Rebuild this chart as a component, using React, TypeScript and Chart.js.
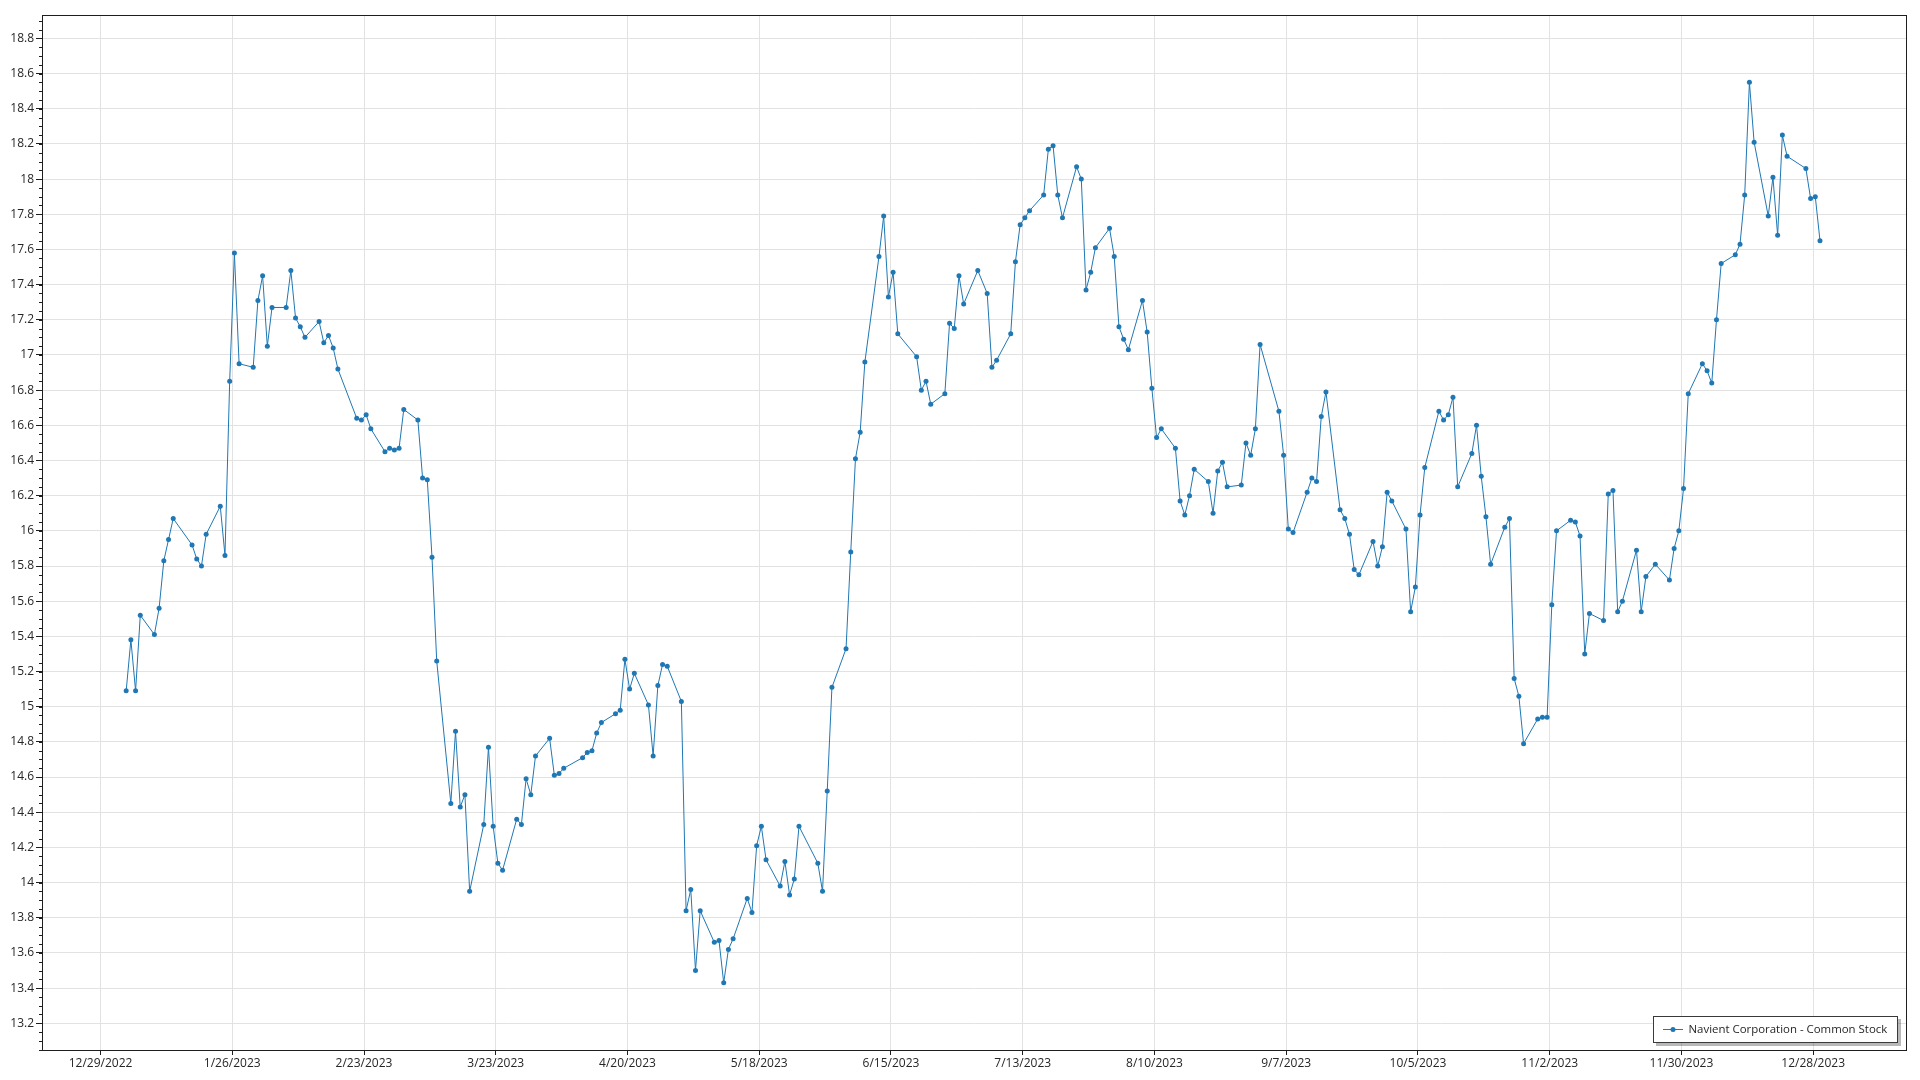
import React, { useEffect, useRef } from "react";
import { Chart, registerables } from "chart.js";

Chart.register(...registerables);

const seriesLabel = "Navient Corporation - Common Stock";

// Trading days (day of month) and closing prices, per month of 2023
const janDays = [3, 4, 5, 6, 9, 10, 11, 12, 13, 17, 18, 19, 20, 23, 24, 25, 26, 27, 30, 31];
const janValues = [15.09, 15.38, 15.09, 15.52, 15.41, 15.56, 15.83, 15.95, 16.07, 15.92, 15.84, 15.8, 15.98, 16.14, 15.86, 16.85, 17.58, 16.95, 16.93, 17.31];
const febDays = [1, 2, 3, 6, 7, 8, 9, 10, 13, 14, 15, 16, 17, 21, 22, 23, 24, 27, 28];
const febValues = [17.45, 17.05, 17.27, 17.27, 17.48, 17.21, 17.16, 17.1, 17.19, 17.07, 17.11, 17.04, 16.92, 16.64, 16.63, 16.66, 16.58, 16.45, 16.47];
const marDays = [1, 2, 3, 6, 7, 8, 9, 10, 13, 14, 15, 16, 17, 20, 21, 22, 23, 24, 27, 28, 29, 30, 31];
const marValues = [16.46, 16.47, 16.69, 16.63, 16.3, 16.29, 15.85, 15.26, 14.45, 14.86, 14.43, 14.5, 13.95, 14.33, 14.77, 14.32, 14.11, 14.07, 14.36, 14.33, 14.59, 14.5, 14.72];
const aprDays = [3, 4, 5, 6, 10, 11, 12, 13, 14, 17, 18, 19, 20, 21, 24, 25, 26, 27, 28];
const aprValues = [14.82, 14.61, 14.62, 14.65, 14.71, 14.74, 14.75, 14.85, 14.91, 14.96, 14.98, 15.27, 15.1, 15.19, 15.01, 14.72, 15.12, 15.24, 15.23];
const mayDays = [1, 2, 3, 4, 5, 8, 9, 10, 11, 12, 15, 16, 17, 18, 19, 22, 23, 24, 25, 26, 30, 31];
const mayValues = [15.03, 13.84, 13.96, 13.5, 13.84, 13.66, 13.67, 13.43, 13.62, 13.68, 13.91, 13.83, 14.21, 14.32, 14.13, 13.98, 14.12, 13.93, 14.02, 14.32, 14.11, 13.95];
const junDays = [1, 2, 5, 6, 7, 8, 9, 12, 13, 14, 15, 16, 20, 21, 22, 23, 26, 27, 28, 29, 30];
const junValues = [14.52, 15.11, 15.33, 15.88, 16.41, 16.56, 16.96, 17.56, 17.79, 17.33, 17.47, 17.12, 16.99, 16.8, 16.85, 16.72, 16.78, 17.18, 17.15, 17.45, 17.29];
const julDays = [3, 5, 6, 7, 10, 11, 12, 13, 14, 17, 18, 19, 20, 21, 24, 25, 26, 27, 28, 31];
const julValues = [17.48, 17.35, 16.93, 16.97, 17.12, 17.53, 17.74, 17.78, 17.82, 17.91, 18.17, 18.19, 17.91, 17.78, 18.07, 18.0, 17.37, 17.47, 17.61, 17.72];
const augDays = [1, 2, 3, 4, 7, 8, 9, 10, 11, 14, 15, 16, 17, 18, 21, 22, 23, 24, 25, 28, 29, 30, 31];
const augValues = [17.56, 17.16, 17.09, 17.03, 17.31, 17.13, 16.81, 16.53, 16.58, 16.47, 16.17, 16.09, 16.2, 16.35, 16.28, 16.1, 16.34, 16.39, 16.25, 16.26, 16.5, 16.43, 16.58];
const sepDays = [1, 5, 6, 7, 8, 11, 12, 13, 14, 15, 18, 19, 20, 21, 22, 25, 26, 27, 28, 29];
const sepValues = [17.06, 16.68, 16.43, 16.01, 15.99, 16.22, 16.3, 16.28, 16.65, 16.79, 16.12, 16.07, 15.98, 15.78, 15.75, 15.94, 15.8, 15.91, 16.22, 16.17];
const octDays = [2, 3, 4, 5, 6, 9, 10, 11, 12, 13, 16, 17, 18, 19, 20, 23, 24, 25, 26, 27, 30, 31];
const octValues = [16.01, 15.54, 15.68, 16.09, 16.36, 16.68, 16.63, 16.66, 16.76, 16.25, 16.44, 16.6, 16.31, 16.08, 15.81, 16.02, 16.07, 15.16, 15.06, 14.79, 14.93, 14.94];
const novDays = [1, 2, 3, 6, 7, 8, 9, 10, 13, 14, 15, 16, 17, 20, 21, 22, 24, 27, 28, 29, 30];
const novValues = [14.94, 15.58, 16.0, 16.06, 16.05, 15.97, 15.3, 15.53, 15.49, 16.21, 16.23, 15.54, 15.6, 15.89, 15.54, 15.74, 15.81, 15.72, 15.9, 16.0, 16.24];
const decDays = [1, 4, 5, 6, 7, 8, 11, 12, 13, 14, 15, 18, 19, 20, 21, 22, 26, 27, 28, 29];
const decValues = [16.78, 16.95, 16.91, 16.84, 17.2, 17.52, 17.57, 17.63, 17.91, 18.55, 18.21, 17.79, 18.01, 17.68, 18.25, 18.13, 18.06, 17.89, 17.9, 17.65];

const xTickLabels = ["12/29/2022", "1/26/2023", "2/23/2023", "3/23/2023", "4/20/2023", "5/18/2023", "6/15/2023", "7/13/2023", "8/10/2023", "9/7/2023", "10/5/2023", "11/2/2023", "11/30/2023", "12/28/2023"];
const yTickValues = [13.2, 13.4, 13.6, 13.8, 14, 14.2, 14.4, 14.6, 14.8, 15, 15.2, 15.4, 15.6, 15.8, 16, 16.2, 16.4, 16.6, 16.8, 17, 17.2, 17.4, 17.6, 17.8, 18, 18.2, 18.4, 18.6, 18.8];

// quotes are time-stamped part-way through the trading day (~10:50)
const QUOTE_TIME_OF_DAY = 0.45;

const ORIGIN = Date.UTC(2022, 11, 29);
const DAY = 86400000;
const dayIndex = (y: number, m: number, d: number) => (Date.UTC(y, m, d) - ORIGIN) / DAY;
const parseMDY = (s: string) => {
  const [m, d, y] = s.split("/").map(Number);
  return dayIndex(y, m - 1, d);
};

const monthDays = [janDays, febDays, marDays, aprDays, mayDays, junDays, julDays, augDays, sepDays, octDays, novDays, decDays];
const monthValues = [janValues, febValues, marValues, aprValues, mayValues, junValues, julValues, augValues, sepValues, octValues, novValues, decValues];

const points: { x: number; y: number }[] = [];
monthDays.forEach((days, m) => {
  days.forEach((d, i) => points.push({ x: dayIndex(2023, m, d) + QUOTE_TIME_OF_DAY, y: monthValues[m][i] }));
});

const xTickPositions = xTickLabels.map(parseMDY);
const labelByPos = new Map<number, string>();
xTickPositions.forEach((p, i) => labelByPos.set(p, xTickLabels[i]));

const LINE_COLOR = "#1f77b4";
const FONT_FAMILY = "'Open Sans', 'Noto Sans', sans-serif";
const TEXT_COLOR = "#262626";
const GRID_COLOR = "#e2e2e2";
const AXIS_COLOR = "#1e1e1e";

const framePlugin = {
  id: "frameAndLegend",
  afterDraw(chart: any) {
    const ctx: CanvasRenderingContext2D = chart.ctx;
    const a = chart.chartArea;
    const yScale = chart.scales.y;
    ctx.save();
    // frame
    ctx.strokeStyle = AXIS_COLOR;
    ctx.lineWidth = 1;
    ctx.strokeRect(Math.round(a.left) + 0.5, Math.round(a.top) + 0.5, Math.round(a.right - a.left), Math.round(a.bottom - a.top));
    // minor ticks on y axis
    ctx.beginPath();
    const step = 0.05;
    for (let v = Math.ceil(yScale.min / step) * step; v <= yScale.max + 1e-9; v += step) {
      const py = Math.round(yScale.getPixelForValue(v)) + 0.5;
      ctx.moveTo(a.left - 3, py);
      ctx.lineTo(a.left, py);
    }
    ctx.stroke();

    // legend
    const label = chart.data.datasets[0].label as string;
    ctx.font = `12px ${FONT_FAMILY}`;
    const rawW = ctx.measureText(label).width;
    const fontSize = Math.min(12, (12 * 199) / rawW);
    ctx.font = `${fontSize.toFixed(2)}px ${FONT_FAMILY}`;
    const tw = ctx.measureText(label).width;
    const boxW = Math.round(10 + 20 + 5.5 + tw + 10.5);
    const boxH = 27;
    const bx = Math.round(a.right - 8 - boxW);
    const by = Math.round(a.bottom - 7 - boxH);
    ctx.fillStyle = "rgba(0,0,0,0.28)";
    ctx.fillRect(bx + 3, by + 3, boxW, boxH);
    ctx.fillStyle = "#ffffff";
    ctx.fillRect(bx, by, boxW, boxH);
    ctx.strokeStyle = "#3a3a3a";
    ctx.lineWidth = 1;
    ctx.strokeRect(bx + 0.5, by + 0.5, boxW - 1, boxH - 1);
    const cy = by + boxH / 2;
    ctx.strokeStyle = LINE_COLOR;
    ctx.lineWidth = 1;
    ctx.beginPath();
    ctx.moveTo(bx + 10, cy);
    ctx.lineTo(bx + 30, cy);
    ctx.stroke();
    ctx.fillStyle = LINE_COLOR;
    ctx.beginPath();
    ctx.arc(bx + 20, cy, 2.5, 0, Math.PI * 2);
    ctx.fill();
    ctx.fillStyle = TEXT_COLOR;
    ctx.textBaseline = "middle";
    ctx.textAlign = "left";
    ctx.fillText(label, bx + 35.5, cy);
    ctx.restore();
  },
};

export default function App() {
  const canvasRef = useRef<HTMLCanvasElement | null>(null);

  useEffect(() => {
    const canvas = canvasRef.current;
    if (!canvas) return;
    const chart = new Chart(canvas, {
      type: "line",
      data: {
        datasets: [
          {
            label: seriesLabel,
            data: points,
            borderColor: LINE_COLOR,
            backgroundColor: LINE_COLOR,
            borderWidth: 1,
            pointRadius: 2.5,
            pointHoverRadius: 2.5,
            pointBorderWidth: 0,
            pointBackgroundColor: LINE_COLOR,
            tension: 0,
          },
        ],
      },
      options: {
        animation: false,
        responsive: false,
        maintainAspectRatio: false,
        events: [],
        layout: { padding: { left: 0, top: 15, right: 14, bottom: 0 } },
        plugins: { legend: { display: false }, tooltip: { enabled: false } },
        scales: {
          x: {
            type: "linear",
            min: -12.44,
            max: 383.73,
            afterBuildTicks: (s: any) => {
              s.ticks = xTickPositions.map((v) => ({ value: v }));
            },
            afterFit: (s: any) => {
              s.height = 30;
            },
            ticks: {
              autoSkip: false,
              maxRotation: 0,
              padding: 1,
              color: TEXT_COLOR,
              font: { family: FONT_FAMILY, size: 12 },
              callback: (v: any) => labelByPos.get(Number(v)) ?? "",
            },
            grid: { color: GRID_COLOR, tickColor: AXIS_COLOR, tickLength: 5, drawTicks: true },
            border: { color: AXIS_COLOR, width: 1 },
          },
          y: {
            type: "linear",
            min: 13.048,
            max: 18.933,
            afterBuildTicks: (s: any) => {
              s.ticks = yTickValues.map((v) => ({ value: v }));
            },
            afterFit: (s: any) => {
              s.width = 42;
            },
            ticks: {
              padding: 2,
              color: TEXT_COLOR,
              font: { family: FONT_FAMILY, size: 12 },
              callback: (v: any) => String(Number(Number(v).toFixed(1))),
            },
            grid: { color: GRID_COLOR, tickColor: AXIS_COLOR, tickLength: 6, drawTicks: true },
            border: { color: AXIS_COLOR, width: 1 },
          },
        },
      },
      plugins: [framePlugin],
    } as any);
    return () => chart.destroy();
  }, []);

  return (
    <div style={{ position: "fixed", left: 0, top: 0, width: 1920, height: 1080, background: "#ffffff" }}>
      <canvas ref={canvasRef} width={1920} height={1080} style={{ width: 1920, height: 1080, display: "block" }} />
    </div>
  );
}
